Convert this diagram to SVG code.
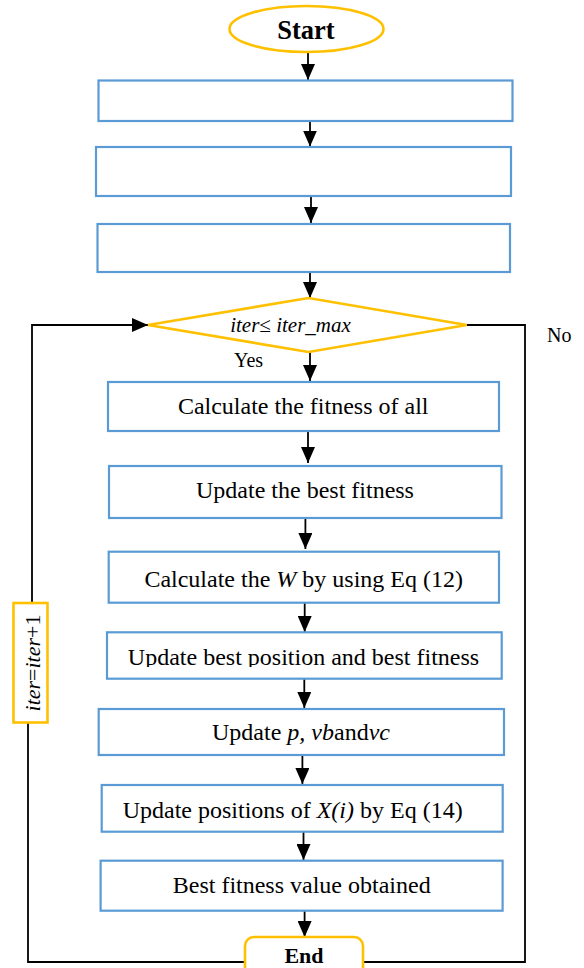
<svg xmlns="http://www.w3.org/2000/svg" width="584" height="968" viewBox="0 0 584 968">
<style>
text{font-family:"Liberation Serif","Times New Roman",serif;fill:#000;}
.box{fill:#fff;stroke:#5B9BD5;stroke-width:2.2;}
.term{fill:#fff;stroke:#FFC000;stroke-width:2.6;}
.t{font-size:24px;text-anchor:middle;}
.lbl{font-size:20px;}
.b{font-weight:bold;}
.i{font-style:italic;}
.con{fill:none;stroke:#000;stroke-width:1.8;}
</style>
<defs>
<marker id="ah" viewBox="0 0 16 14" refX="16" refY="7" markerWidth="16" markerHeight="14" markerUnits="userSpaceOnUse" orient="auto">
<path d="M0,0 L16,7 L0,14 Z" fill="#000"/>
</marker>
<clipPath id="clip7"><rect x="107" y="632" width="395" height="35"/></clipPath>
</defs>

<g id="connectors">
<path class="con" marker-end="url(#ah)" d="M308,52 V80"/>
<path class="con" marker-end="url(#ah)" d="M310,121 V146.5"/>
<path class="con" marker-end="url(#ah)" d="M311,196 V223"/>
<path class="con" marker-end="url(#ah)" d="M310,272 V298"/>
<path class="con" marker-end="url(#ah)" d="M310,352 V381"/>
<path class="con" marker-end="url(#ah)" d="M308,431 V463"/>
<path class="con" marker-end="url(#ah)" d="M305.4,518 V549"/>
<path class="con" marker-end="url(#ah)" d="M304.7,603 V632"/>
<path class="con" marker-end="url(#ah)" d="M304.3,679 V708"/>
<path class="con" marker-end="url(#ah)" d="M302.4,755 V784"/>
<path class="con" marker-end="url(#ah)" d="M303.5,832 V860"/>
<path class="con" marker-end="url(#ah)" d="M304.6,911 V937"/>
<path class="con" d="M466.7,325 H525 V962 H363"/>
<path class="con" d="M245,962 H28 V723"/>
<path class="con" marker-end="url(#ah)" d="M32,603 V325 H148"/>
<text class="lbl" x="547" y="341.5">No</text>
<text class="lbl" x="234" y="366.5">Yes</text>
</g>

<g id="start">
<ellipse class="term" cx="306.5" cy="29" rx="77" ry="23"/>
<text class="t b" x="306" y="39" style="font-size:26.5px">Start</text>
</g>

<g id="box1"><rect class="box" x="98.5" y="80.5" width="414" height="40.5"/></g>
<g id="box2"><rect class="box" x="96" y="147" width="415" height="49"/></g>
<g id="box3"><rect class="box" x="97.5" y="224" width="412.5" height="48"/></g>

<g id="decision">
<polygon class="term" points="148,325 308.5,298 466.7,325 308.5,352"/>
<text class="t i" x="290.5" y="331.5" style="font-size:21px">iter≤ iter_max</text>
</g>

<g id="box4">
<rect class="box" x="108" y="382" width="391" height="49"/>
<text class="t" x="303.2" y="414">Calculate the fitness of all</text>
</g>

<g id="box5">
<rect class="box" x="109" y="466" width="392.5" height="52"/>
<text class="t" x="305" y="498">Update the best fitness</text>
</g>

<g id="box6">
<rect class="box" x="108.7" y="551.7" width="390.3" height="51"/>
<text class="t" x="303.7" y="586.5">Calculate the <tspan class="i">W</tspan> by using Eq (12)</text>
</g>

<g id="box7">
<rect class="box" x="107" y="632.3" width="394.7" height="46.4"/>
<text class="t" x="303.5" y="665" clip-path="url(#clip7)">Update best position and best fitness</text>
</g>

<g id="box8">
<rect class="box" x="98.7" y="709" width="405.3" height="46"/>
<text class="t" x="301" y="740">Update <tspan class="i">p,</tspan> <tspan class="i">vb</tspan>and<tspan class="i">vc</tspan></text>
</g>

<g id="box9">
<rect class="box" x="101.7" y="785" width="401" height="46.7"/>
<text class="t" x="292.7" y="817.5">Update positions of <tspan class="i">X(i)</tspan> by Eq (14)</text>
</g>

<g id="box10">
<rect class="box" x="100.6" y="860.7" width="402" height="50"/>
<text class="t" x="301.7" y="893.3">Best fitness value obtained</text>
</g>

<g id="end">
<rect class="term" x="245" y="937" width="118" height="50" rx="9"/>
<text class="t b" x="304" y="963" style="font-size:22px">End</text>
</g>

<g id="increment">
<rect class="term" x="13.5" y="603" width="34" height="119.5"/>
<text class="t" transform="translate(39.5,663) rotate(-90)" style="font-size:22px"><tspan class="i">iter</tspan>=<tspan class="i">iter</tspan>+1</text>
</g>
</svg>
